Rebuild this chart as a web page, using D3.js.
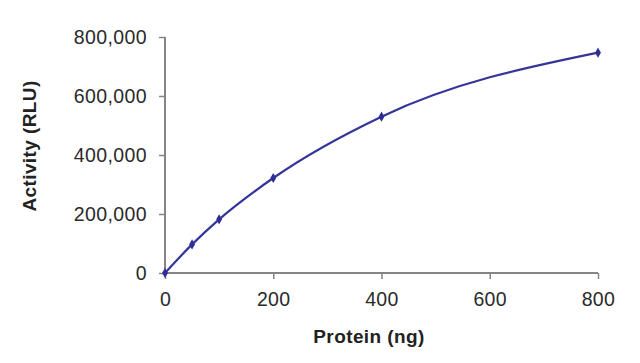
<!DOCTYPE html>
<html><head><meta charset="utf-8">
<script src="https://cdn.jsdelivr.net/npm/d3@7"></script>
<style>
html,body{margin:0;padding:0;background:#fff;}
svg{display:block;}
</style>
</head><body>
<svg id="chart" width="640" height="363"></svg>
<script>
const protein = [0, 50, 100, 200, 400, 800];
const activity = [0, 97000, 182000, 322000, 530000, 747000];
const xTicks = [0, 200, 400, 600, 800];
const yTicks = [0, 200000, 400000, 600000, 800000];
const xTitle = "Protein (ng)";
const yTitle = "Activity (RLU)";

const svg = d3.select("#chart");
const m = {left:165, right:42, top:37, bottom:90};
const W = 640, H = 363;
const x = d3.scaleLinear().domain([0, 800]).range([m.left, W - m.right]);
const y = d3.scaleLinear().domain([0, 800000]).range([H - m.bottom, m.top]);
const font = "'Liberation Sans', Arial, sans-serif";
const axisColor = "#858585";

const xAxis = svg.append("g").attr("transform", `translate(0,${y(0)})`)
  .call(d3.axisBottom(x).tickValues(xTicks).tickSize(6).tickPadding(13).tickFormat(d3.format("d")));
const yAxis = svg.append("g").attr("transform", `translate(${x(0)},0)`)
  .call(d3.axisLeft(y).tickValues(yTicks).tickSize(6).tickPadding(12).tickFormat(d3.format(",")));
[xAxis, yAxis].forEach(g => {
  g.select(".domain").attr("stroke", axisColor).attr("stroke-width", 2).attr("d",
    g === xAxis ? `M${x(0)},0H${x(800)}` : `M0,${y(0)}V${y(800000)}`);
  g.selectAll(".tick line").attr("stroke", axisColor).attr("stroke-width", 1.5);
  g.selectAll(".tick text").attr("fill", "#2a2a2a").style("font-family", font)
    .style("font-size", "19.5px").style("letter-spacing", "0.4px");
});

const data = protein.map((p, i) => ({p, a: activity[i]}));
const line = d3.line().x(d => x(d.p)).y(d => y(d.a)).curve(d3.curveMonotoneX);
svg.append("path").datum(data).attr("d", line)
  .attr("fill", "none").attr("stroke", "#35359a").attr("stroke-width", 2.2);
svg.selectAll(".pt").data(data).enter().append("path")
  .attr("transform", d => `translate(${x(d.p)},${y(d.a)})`)
  .attr("d", d3.symbol().type(d3.symbolDiamond).size(30))
  .attr("fill", "#2e2e95");

svg.append("text").attr("x", 369).attr("y", 343).attr("text-anchor", "middle")
  .style("font-family", font).style("font-size", "19px").style("font-weight", "bold")
  .style("letter-spacing", "0.4px").attr("fill", "#222").text(xTitle);
svg.append("text").attr("transform", `translate(36,146) rotate(-90)`).attr("text-anchor", "middle")
  .style("font-family", font).style("font-size", "19px").style("font-weight", "bold")
  .style("letter-spacing", "0.4px").attr("fill", "#222").text(yTitle);
</script>
</body></html>
